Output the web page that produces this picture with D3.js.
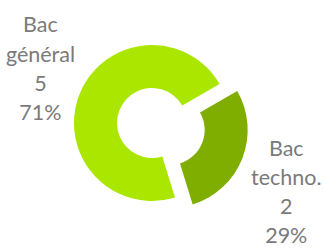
<!DOCTYPE html>
<html>
<head>
<meta charset="utf-8">
<script src="https://cdn.jsdelivr.net/npm/d3@7"></script>
<style>
  body { margin: 0; background: #fff; }
  text { font-family: Lato, "Open Sans", sans-serif; }
</style>
</head>
<body>
<script>
var categories = ['Bac général', 'Bac techno.'];
var values = [5, 2];
var colors = ['#abe600', '#7fae00'];

var screen = { width: 324, height: 248 };
var cx = 152, cy = 123;
var outer = 78, inner = 35;
var startAngle = 60 * Math.PI / 180; // techno slice starts here
var explode = [0, 19];
var labelNudge = [[2, -9], [3, 18]];

var total = d3.sum(values);
var svg = d3.select('body')
            .append('svg')
            .attr('width', screen.width)
            .attr('height', screen.height);

// order: techno first from 60deg, then général
var pie = d3.pie()
            .sort(null)
            .value(function(d){ return d.value; })
            .startAngle(startAngle)
            .endAngle(startAngle + 2 * Math.PI);

var rows = categories.map(function(c, i){
  return { name: c, value: values[i], color: colors[i], explode: explode[i], nudge: labelNudge[i] };
});
var arcs = pie([rows[1], rows[0]]);

var arc = d3.arc().innerRadius(inner).outerRadius(outer);
var labelArc = d3.arc().innerRadius(122).outerRadius(122);

var g = svg.append('g').attr('transform', 'translate(' + cx + ',' + cy + ')');

g.selectAll('path')
 .data(arcs)
 .enter()
 .append('path')
 .attr('d', arc)
 .attr('fill', function(d){ return d.data.color; })
 .attr('transform', function(d){
   var mid = (d.startAngle + d.endAngle) / 2;
   return 'translate(' + (Math.sin(mid) * d.data.explode) + ',' + (-Math.cos(mid) * d.data.explode) + ')';
 });

var lineH = 29.3;
g.selectAll('text.lbl')
 .data(arcs)
 .enter()
 .append('text')
 .attr('class', 'lbl')
 .attr('text-anchor', 'middle')
 .attr('fill', '#7a7a7a')
 .style('font-size', '21.5px')
 .each(function(d){
   var c = labelArc.centroid(d);
   var mid = (d.startAngle + d.endAngle) / 2;
   var x = c[0] + Math.sin(mid) * d.data.explode + d.data.nudge[0];
   var y = c[1] - Math.cos(mid) * d.data.explode + d.data.nudge[1];
   var parts = d.data.name.split(' ');
   var lines = [parts[0], parts[1], d.data.value, Math.round(d.data.value / total * 100) + '%'];
   var t = d3.select(this);
   lines.forEach(function(l, i){
     t.append('tspan')
      .attr('x', x)
      .attr('y', y + (i - 1.5) * lineH + 7)
      .text(l);
   });
 });
</script>
</body>
</html>
